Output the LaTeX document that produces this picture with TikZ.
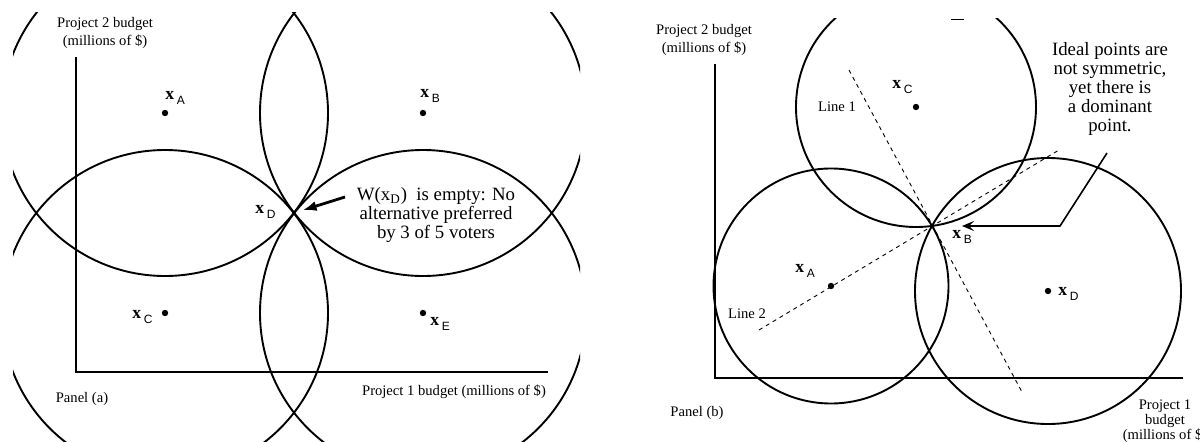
\documentclass[tikz,border=0pt]{standalone}
\usepackage{fontspec}
\setmainfont{Liberation Serif}
\setsansfont{Liberation Sans}
\usetikzlibrary{
  arrows.meta,
  positioning,
  calc
}
\newcommand{\vx}[1]{\textbf{x}\kern1.3pt\raisebox{-2.2pt}{\sffamily\fontsize{6}{6}\selectfont #1}}

\begin{document}
\begin{tikzpicture}[
  x=0.5pt,y=0.5pt,
  curve/.style={line width=0.95pt},
  axis/.style={line width=0.95pt},
  guide/.style={line width=0.45pt,dash pattern=on 2pt off 2pt},
  dot/.style={circle,fill,inner sep=0pt,minimum size=3.2pt},
  axislabel/.style={font=\fontsize{7.3}{8.8}\selectfont,align=center,inner sep=0pt},
  note/.style={font=\fontsize{9.4}{9.4}\selectfont,align=center,inner sep=0pt},
  vlabel/.style={font=\fontsize{8.8}{8.8}\selectfont,anchor=west,inner sep=0pt},
  pointer/.style={-{Latex[length=7pt,width=5pt]},line width=1.4pt},
  thinpointer/.style={-{Stealth[length=6pt,width=5pt,inset=2.5pt]},line width=0.8pt},
]
\useasboundingbox (0,0) rectangle (1200,441);
\clip (0,0) rectangle (1200,441);

% panel (a): five voters, D at the centre
\node[dot] (A) at (165,328) {};
\node[dot] (B) at (423,328) {};
\node[dot] (C) at (165,128) {};
\node[dot] (E) at (423,128) {};
\coordinate (D) at (294,228);

\begin{scope}
  \clip (13,0) rectangle (580,429);
  \foreach \p in {A,B,C,E}
    \draw[curve] (\p.center) circle[radius=163];
\end{scope}

\coordinate (oA) at (76,69);
\draw[axis] (76,384) -- (oA) -- (548,69);

\node[vlabel] (lA) at (165,343) {\vx{A}};
\node[vlabel] (lB) at (420,345) {\vx{B}};
\node[vlabel] (lC) at (132,124) {\vx{C}};
\node[vlabel] (lD) at (255,229) {\vx{D}};
\node[vlabel] (lE) at (430,117) {\vx{E}};

\node[axislabel] (ylabA) at (105,408) {Project 2 budget\\(millions of \$)};
\node[axislabel] (xlabA) at (454,49) {Project 1 budget (millions of \$)};
\node[axislabel] (panA) at (82,42) {Panel (a)};
\node[note] (wnote) at (436,226) {W(x\textsubscript{D})\ \ is empty: No\\alternative preferred\\by 3 of 5 voters};

\coordinate (wtail) at (345,244);
\draw[pointer,shorten >=4.5pt] (wtail) -- (D);

% panel (b): dominant point at B
\node[dot] (A2) at (831,155) {};
\node[dot] (C2) at (916,334) {};
\node[dot] (D2) at (1048,150) {};
\coordinate (B2) at (932,215);

\begin{scope}
  \clip (600,0) rectangle (1200,423);
  \draw[curve] (A2.center) circle[radius=117.5];
  \draw[curve] (C2.center) circle[radius=120];
  \draw[curve] (D2.center) circle[radius=133];
\end{scope}
\draw[line width=0.5pt] (951,422) -- (964,422);

\coordinate (oB) at (715,63);
\draw[axis] (715,377) -- (oB) -- (1183,63);

\coordinate (l1a) at (849,371);
\coordinate (l1b) at (1022,49);
\coordinate (l2a) at (759,111);
\coordinate (l2b) at (1059,291);
\draw[guide] (l1a) -- (l1b);
\draw[guide] (l2a) -- (l2b);

\node[vlabel] (lA2) at (795,170) {\vx{A}};
\node[vlabel] (lB2) at (952,204) {\vx{B}};
\node[vlabel] (lC2) at (892,354) {\vx{C}};
\node[vlabel] (lD2) at (1058,147) {\vx{D}};

\node[axislabel] (line1) at (837,334) {Line 1};
\node[axislabel] (line2) at (747,127) {Line 2};
\node[axislabel] (ylabB) at (704,401) {Project 2 budget\\(millions of \$)};
\node[axislabel] (panB) at (697,28) {Panel (b)};
\node[axislabel,font=\fontsize{7.3}{7.6}\selectfont] (xlabB) at (1165,20) {Project 1\\budget\\(millions of \$)};
\node[note] (ideal) at (1110,352) {Ideal points are\\not symmetric,\\yet there is\\a dominant\\point.};

\coordinate (itail) at (1107,288);
\coordinate (ibend) at (1060,215);
\draw[thinpointer,shorten >=15pt] (itail) -- (ibend) -- (B2);
\end{tikzpicture}
\end{document}
